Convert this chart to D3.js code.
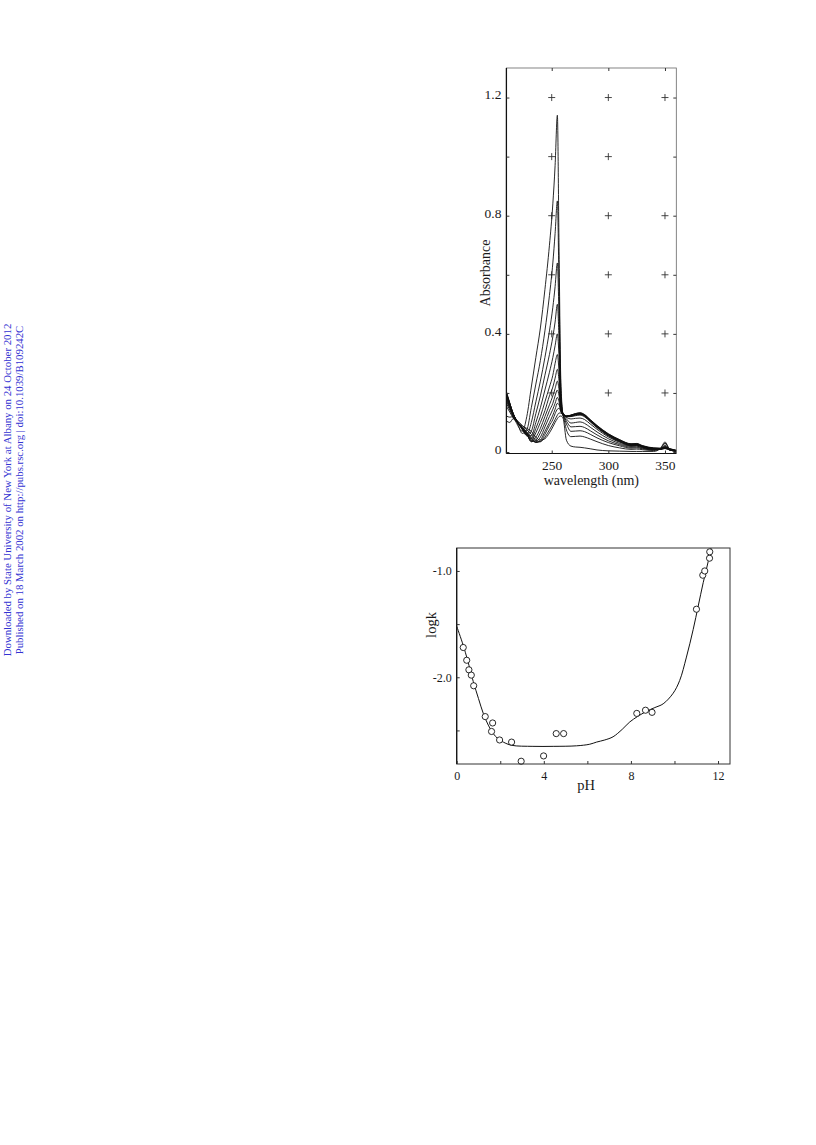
<!DOCTYPE html>
<html><head><meta charset="utf-8">
<script src="https://cdn.jsdelivr.net/npm/d3@7"></script>
<style>html,body{margin:0;padding:0;background:#fff;} svg{display:block}</style>
</head><body>
<svg id="c" width="816" height="1145"></svg>
<script>
// ---------- DATA: spectra (top panel) ----------
const wavelengths = [210,213,216,220,224,228,232,236,240,244,248,251,253,255,256.5,258,260,263,267,271,275,279,284,290,300,310,320,325,330,340,346,350,354,360];
const spec01 = [0.205,0.165,0.125,0.09,0.07,0.12,0.22,0.32,0.42,0.55,0.70,0.84,0.97,1.14,0.68,0.25,0.13, 0.122,0.125,0.13,0.133,0.127,0.11,0.09,0.062,0.042,0.028,0.029,0.022,0.014,0.013,0.018,0.012,0.006];
const spec02 = [0.20,0.165,0.13,0.095,0.063,0.075,0.15,0.23,0.31,0.41,0.53,0.64,0.74,0.85,0.55,0.22,0.13, 0.122,0.125,0.13,0.132,0.126,0.109,0.089,0.061,0.041,0.027,0.028,0.021,0.013,0.012,0.016,0.011,0.005];
const spec03 = [0.20,0.165,0.13,0.10,0.075,0.058,0.10,0.17,0.24,0.32,0.41,0.49,0.56,0.64,0.45,0.20,0.13, 0.122,0.124,0.129,0.131,0.125,0.108,0.088,0.06,0.04,0.026,0.027,0.02,0.013,0.012,0.015,0.01,0.005];
const spec04 = [0.198,0.163,0.13,0.10,0.078,0.055,0.07,0.13,0.19,0.26,0.33,0.39,0.44,0.50,0.38,0.18,0.13, 0.121,0.124,0.128,0.130,0.124,0.107,0.087,0.059,0.039,0.026,0.026,0.02,0.012,0.011,0.014,0.01,0.005];
const spec05 = [0.195,0.16,0.13,0.10,0.08,0.057,0.055,0.10,0.15,0.21,0.27,0.32,0.36,0.40,0.32,0.17,0.13, 0.121,0.123,0.127,0.129,0.123,0.106,0.086,0.058,0.038,0.025,0.025,0.019,0.012,0.011,0.014,0.009,0.004];
const spec06 = [0.19,0.158,0.128,0.10,0.08,0.058,0.045,0.08,0.12,0.17,0.22,0.26,0.30,0.33,0.27,0.16,0.13, 0.12,0.122,0.126,0.128,0.122,0.105,0.085,0.057,0.037,0.024,0.025,0.019,0.011,0.01,0.013,0.009,0.004];
const spec07 = [0.187,0.155,0.127,0.10,0.08,0.06,0.038,0.065,0.10,0.14,0.19,0.22,0.25,0.28,0.24,0.15,0.13, 0.12,0.121,0.125,0.127,0.121,0.104,0.084,0.056,0.036,0.023,0.024,0.018,0.011,0.01,0.013,0.008,0.004];
const spec08 = [0.183,0.152,0.125,0.10,0.08,0.06,0.035,0.05,0.08,0.12,0.16,0.19,0.215,0.24,0.21,0.15,0.128, 0.119,0.12,0.123,0.125,0.119,0.102,0.082,0.054,0.035,0.022,0.023,0.017,0.01,0.009,0.012,0.008,0.004];
const spec09 = [0.178,0.15,0.123,0.10,0.08,0.062,0.035,0.04,0.065,0.10,0.14,0.165,0.19,0.21,0.19,0.145,0.127, 0.117,0.112,0.114,0.115,0.11,0.095,0.077,0.051,0.033,0.021,0.022,0.016,0.01,0.009,0.012,0.007,0.003];
const spec10 = [0.172,0.147,0.12,0.10,0.082,0.064,0.04,0.035,0.05,0.085,0.12,0.145,0.165,0.185,0.17,0.14,0.125, 0.112,0.098,0.10,0.102,0.097,0.084,0.068,0.045,0.029,0.019,0.02,0.015,0.009,0.009,0.016,0.007,0.003];
const spec11 = [0.165,0.142,0.118,0.10,0.083,0.066,0.045,0.032,0.04,0.07,0.10,0.125,0.145,0.165,0.16,0.14,0.125, 0.105,0.085,0.086,0.087,0.083,0.072,0.058,0.038,0.025,0.016,0.017,0.013,0.008,0.009,0.02,0.007,0.003];
const spec12 = [0.155,0.135,0.115,0.098,0.085,0.068,0.05,0.033,0.035,0.06,0.09,0.11,0.13,0.145,0.148,0.138,0.124, 0.095,0.07,0.071,0.072,0.069,0.06,0.048,0.032,0.021,0.013,0.014,0.011,0.007,0.01,0.024,0.008,0.003];
const spec13 = [0.122,0.118,0.12,0.105,0.09,0.075,0.06,0.04,0.035,0.05,0.075,0.095,0.11,0.125,0.132,0.132,0.123, 0.075,0.052,0.053,0.054,0.051,0.044,0.035,0.022,0.014,0.009,0.01,0.008,0.005,0.012,0.03,0.01,0.003];
const spec14 = [0.105,0.10,0.113,0.10,0.088,0.08,0.07,0.05,0.04,0.045,0.065,0.085,0.10,0.113,0.12,0.122,0.115, 0.04,0.02,0.017,0.016,0.014,0.011,0.007,0.004,0.003,0.002,0.002,0.002,0.002,0.012,0.034,0.01,0.002];
const spectra = [spec01,spec02,spec03,spec04,spec05,spec06,spec07,spec08,spec09,spec10,spec11,spec12,spec13,spec14];
const absTicks = [0,0.2,0.4,0.6,0.8,1.0,1.2];
const absLabels = [0,0.4,0.8,1.2];
const wlTicks = [250,300,350];
const gridWl = [250,300,350];
const gridAbs = [0.2,0.4,0.6,0.8,1.0,1.2];

// ---------- DATA: log k vs pH (bottom panel) ----------
const pHPoints   = [0.30,0.46,0.56,0.67,0.78,1.31,1.65,1.60,1.97,2.52,2.96,3.99,4.57,4.91,8.27,8.67,8.97,11.01,11.30,11.39,11.61,11.62];
const logkPoints = [-1.72,-1.84,-1.93,-1.98,-2.08,-2.37,-2.43,-2.51,-2.59,-2.61,-2.79,-2.74,-2.53,-2.53,-2.34,-2.31,-2.33,-1.36,-1.04,-1.00,-0.88,-0.82];
const pHFit   = [0,0.3,0.5,0.76,1.0,1.22,1.45,1.68,1.9,2.14,2.52,3.5,4.43,5.5,6.11,6.42,6.8,7.18,7.6,7.95,8.3,8.72,9.1,9.48,9.94,10.24,10.55,10.86,11.09,11.32,11.55,11.70];
const logkFit = [-1.52,-1.70,-1.84,-2.04,-2.20,-2.34,-2.45,-2.53,-2.58,-2.61,-2.64,-2.65,-2.65,-2.645,-2.63,-2.61,-2.59,-2.56,-2.49,-2.42,-2.37,-2.32,-2.285,-2.25,-2.15,-2.03,-1.81,-1.55,-1.33,-1.11,-0.91,-0.76];
const pHTicks = [0,2,4,6,8,10,12];
const pHLabels = [0,4,8,12];
const logkTicks = [-1.0,-1.5,-2.0,-2.5];
const logkLabels = [-1.0,-2.0];

const watermark1 = "Downloaded by State University of New York at Albany on 24 October 2012";
const watermark2 = "Published on 18 March 2002 on http://pubs.rsc.org | doi:10.1039/B109242C";

// ---------- DRAW ----------
const svg = d3.select("#c");
const serif = "'Liberation Serif','DejaVu Serif',serif";

// watermark
svg.append("text").attr("transform","translate(11,490) rotate(-90)")
  .attr("text-anchor","middle").attr("font-family",serif).attr("font-size",10.8)
  .attr("fill","#3232d2").text(watermark1);
svg.append("text").attr("transform","translate(23,490) rotate(-90)")
  .attr("text-anchor","middle").attr("font-family",serif).attr("font-size",10.8)
  .attr("fill","#3232d2").text(watermark2);

// ===== top panel =====
const x1 = d3.scaleLinear().domain([210,360]).range([506.4,676.3]);
const y1 = d3.scaleLinear().domain([-0.005,1.3]).range([453.5,68]);
const g1 = svg.append("g");
g1.append("defs").append("clipPath").attr("id","clip1").append("rect")
  .attr("x",x1(210)).attr("y",y1(1.3)).attr("width",x1(360)-x1(210)).attr("height",y1(-0.005)-y1(1.3));

// grid crosses
const crosses = [];
gridWl.forEach(w => gridAbs.forEach(a => { if (!(w===350 && a===1.0)) crosses.push([w,a]); }));
g1.selectAll("path.cross").data(crosses).enter().append("path")
  .attr("d", d => { const cx=x1(d[0]), cy=y1(d[1]); return `M${cx-3.5},${cy}H${cx+3.5}M${cx},${cy-3.5}V${cy+3.5}`; })
  .attr("stroke","#333").attr("stroke-width",0.9).attr("fill","none");

// spectra
const line1 = d3.line().x((d,i)=>x1(wavelengths[i])).y(d=>y1(d)).curve(d3.curveMonotoneX);
g1.append("g").attr("clip-path","url(#clip1)").selectAll("path.spec").data(spectra).enter().append("path")
  .attr("d", line1).attr("fill","none").attr("stroke","#111").attr("stroke-width",0.9);

// frame
g1.append("rect").attr("x",x1(210)).attr("y",y1(1.3)).attr("width",x1(360)-x1(210)).attr("height",y1(-0.005)-y1(1.3))
  .attr("fill","none").attr("stroke","#666").attr("stroke-width",0.8);
g1.append("line").attr("x1",x1(210)).attr("x2",x1(210)).attr("y1",y1(1.3)).attr("y2",y1(-0.005)).attr("stroke","#111").attr("stroke-width",1.3);
g1.append("line").attr("x1",x1(210)).attr("x2",x1(360)).attr("y1",y1(-0.005)).attr("y2",y1(-0.005)).attr("stroke","#111").attr("stroke-width",1.2);

// axes
const fmtAbs = v => absLabels.some(l=>Math.abs(l-v)<1e-9) ? (v===0?"0":d3.format(".1f")(v)) : "";
const axL = g1.append("g").attr("transform",`translate(${x1(210)},0)`)
  .call(d3.axisLeft(y1).tickValues(absTicks).tickSize(-3).tickPadding(5).tickFormat(fmtAbs));
const axR = g1.append("g").attr("transform",`translate(${x1(360)},0)`)
  .call(d3.axisRight(y1).tickValues(absTicks).tickSize(-3).tickFormat(""));
const axB = g1.append("g").attr("transform",`translate(0,${y1(-0.005)})`)
  .call(d3.axisBottom(x1).tickValues(wlTicks).tickSize(-3).tickPadding(7).tickFormat(d3.format("d")));
const axT = g1.append("g").attr("transform",`translate(0,${y1(1.3)})`)
  .call(d3.axisTop(x1).tickValues(wlTicks).tickSize(-3).tickFormat(""));
[axL,axR,axB,axT].forEach(a => { a.select(".domain").remove(); a.selectAll("line").attr("stroke","#333");
  a.selectAll("text").attr("font-family",serif).attr("font-size",13.5).attr("fill","#1a1a1a"); });
axL.selectAll("text").attr("dy","0.1em");

g1.append("text").attr("x",(x1(210)+x1(360))/2).attr("y",485).attr("text-anchor","middle")
  .attr("font-family",serif).attr("font-size",14).attr("fill","#1a1a1a").text("wavelength (nm)");
g1.append("text").attr("transform","translate(490,273) rotate(-90)").attr("text-anchor","middle")
  .attr("font-family",serif).attr("font-size",14).attr("fill","#1a1a1a").text("Absorbance");

// ===== bottom panel =====
const x2 = d3.scaleLinear().domain([0,12.55]).range([456.7,730]);
const y2 = d3.scaleLinear().domain([-2.816,-0.784]).range([764,548]);
const g2 = svg.append("g");
g2.append("defs").append("clipPath").attr("id","clip2").append("rect")
  .attr("x",x2(0)).attr("y",y2(-0.784)).attr("width",x2(12.55)-x2(0)).attr("height",y2(-2.816)-y2(-0.784));

const line2 = d3.line().x((d,i)=>x2(pHFit[i])).y(d=>y2(d)).curve(d3.curveCatmullRom.alpha(0.5));
g2.append("path").attr("clip-path","url(#clip2)").datum(logkFit).attr("d",line2)
  .attr("fill","none").attr("stroke","#111").attr("stroke-width",1);

g2.selectAll("circle").data(pHPoints).enter().append("circle")
  .attr("cx",d=>x2(d)).attr("cy",(d,i)=>y2(logkPoints[i])).attr("r",3.1)
  .attr("fill","#fff").attr("stroke","#111").attr("stroke-width",0.9);

g2.append("rect").attr("x",x2(0)).attr("y",y2(-0.784)).attr("width",x2(12.55)-x2(0)).attr("height",y2(-2.816)-y2(-0.784))
  .attr("fill","none").attr("stroke","#333").attr("stroke-width",1);
g2.append("line").attr("x1",x2(0)).attr("x2",x2(0)).attr("y1",y2(-0.784)).attr("y2",y2(-2.816)).attr("stroke","#111").attr("stroke-width",1.2);

const fmtLogk = v => logkLabels.some(l=>Math.abs(l-v)<1e-9) ? d3.format(".1f")(v).replace("−","-") : "";
const fmtPH = v => pHLabels.includes(v) ? String(v) : "";
const bL = g2.append("g").attr("transform",`translate(${x2(0)},0)`)
  .call(d3.axisLeft(y2).tickValues(logkTicks).tickSize(-3).tickPadding(5).tickFormat(fmtLogk));
const bB = g2.append("g").attr("transform",`translate(0,${y2(-2.816)})`)
  .call(d3.axisBottom(x2).tickValues(pHTicks).tickSize(-3).tickPadding(7).tickFormat(fmtPH));
[bL,bB].forEach(a => { a.select(".domain").remove(); a.selectAll("line").attr("stroke","#333");
  a.selectAll("text").attr("font-family",serif).attr("font-size",12).attr("fill","#1a1a1a"); });

g2.append("text").attr("x",586).attr("y",790).attr("text-anchor","middle")
  .attr("font-family",serif).attr("font-size",14.5).attr("fill","#1a1a1a").text("pH");
g2.append("text").attr("transform","translate(436,625) rotate(-90)").attr("text-anchor","middle")
  .attr("font-family",serif).attr("font-size",14.5).attr("fill","#1a1a1a").text("logk");
</script></body></html>
